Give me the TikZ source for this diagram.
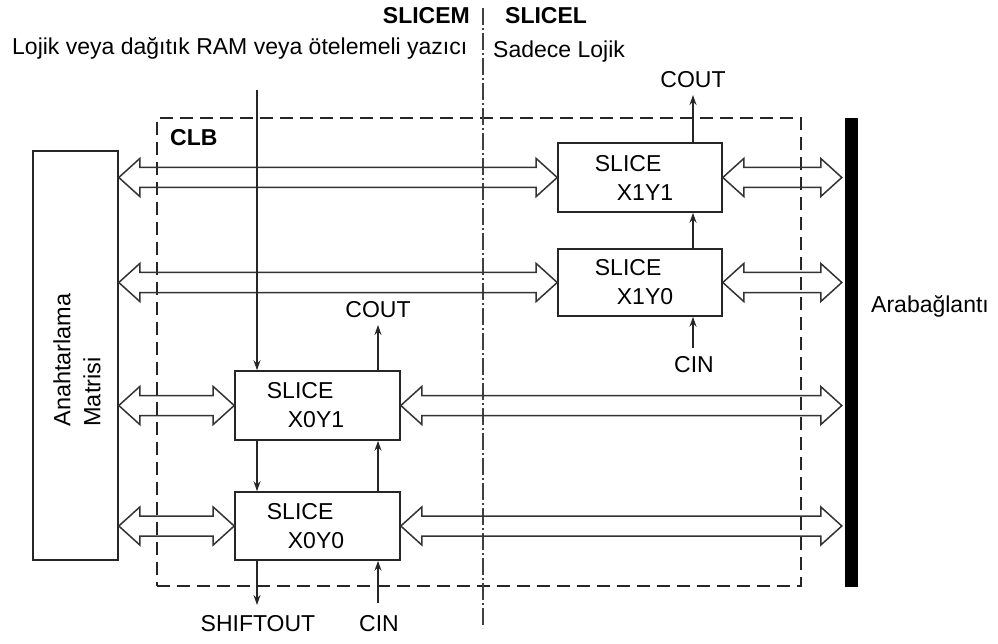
\documentclass[tikz,border=0pt]{standalone}
\usepackage{fontspec}
\setmainfont{Liberation Sans}
\usetikzlibrary{arrows.meta,calc}
\newcommand\hollowarr[2]{%
  \draw[harr] let \p1=#1, \p2=#2 in
    (\x1,\y1) -- (\x1+21pt,\y1+19pt) -- (\x1+21pt,\y1+10pt) -- (\x2-21pt,\y1+10pt)
    -- (\x2-21pt,\y1+19pt) -- (\x2,\y1) -- (\x2-21pt,\y1-19pt) -- (\x2-21pt,\y1-10pt)
    -- (\x1+21pt,\y1-10pt) -- (\x1+21pt,\y1-19pt) -- cycle;}
\tikzset{
  lbl/.style={inner sep=0pt, font=\fontsize{23}{29}\selectfont},
  blbl/.style={inner sep=0pt, font=\fontsize{23}{29}\selectfont\bfseries},
  box/.style={draw=black!85, line width=1.6pt, rectangle, inner sep=0pt},
  slicebox/.style={box, minimum width=164pt, minimum height=69pt, align=left,
    font=\fontsize{23}{29}\selectfont},
  harr/.style={draw=black!80, line width=1.5pt, line join=miter},
  sarr/.style={draw=black!85, line width=1.4pt, -{Stealth[length=10pt,width=7pt]}},
  clbline/.style={draw=black!85, line width=1.5pt, dash pattern=on 13pt off 7pt},
  sepline/.style={draw=black!75, line width=1.3pt, dash pattern=on 17pt off 3pt on 2pt off 3pt}
}
\begin{document}
\begin{tikzpicture}[x=1pt,y=-1pt]
\useasboundingbox (0,0) rectangle (998,644);
% frames
\node[box, minimum width=85pt, minimum height=409pt] (sm) at (75.5,355.5) {};
\node[lbl, rotate=90, align=left, font=\fontsize{23.5}{30}\selectfont] (smtext) at (77,360) {Anahtarlama\\Matrisi};
\node[clbline, rectangle, minimum width=644pt, minimum height=468pt, inner sep=0pt] (clb) at (479,352) {};
\node[fill=black, minimum width=13pt, minimum height=469pt, inner sep=0pt] (bar) at (851.5,352.5) {};
\coordinate (sepTop) at (483,8);
\coordinate (sepBot) at (483,628);
\draw[sepline] (sepTop) -- (sepBot);
% slices
\node[slicebox] (s11) at (640,177.5) {SLICE\\\hspace*{22pt}X1Y1\hspace*{12pt}};
\node[slicebox, minimum height=67pt] (s10) at (640,282.5) {SLICE\\\hspace*{22pt}X1Y0\hspace*{12pt}};
\node[slicebox, minimum width=165pt] (s01) at (317.5,405.5) {SLICE\\\hspace*{21pt}X0Y1\hspace*{24pt}};
\node[slicebox, minimum width=165pt, minimum height=68pt] (s00) at (317.5,526) {SLICE\\\hspace*{21pt}X0Y0\hspace*{24pt}};
% labels
\node[blbl, anchor=base east] (slicem) at (470,24) {SLICEM};
\node[blbl, anchor=base west] (slicel) at (505,24) {SLICEL};
\node[lbl, anchor=base west] (lojik) at (12,55) {Lojik veya dağıtık RAM veya ötelemeli yazıcı};
\node[lbl, anchor=base west] (sadece) at (493,58) {Sadece Lojik};
\node[blbl, anchor=base west] (clblbl) at (170,146) {CLB};
\node[lbl, anchor=base west] (arab) at (871,312) {Arabağlantı};
% hollow double arrows
\hollowarr{(sm.east |- s11.west)}{(s11.west)}
\hollowarr{(sm.east |- s10.west)}{(s10.west)}
\hollowarr{(sm.east |- s01.west)}{(s01.west)}
\hollowarr{(sm.east |- s00.west)}{(s00.west)}
\hollowarr{(s11.east)}{($(bar.west |- s11.east)+(-3,0)$)}
\hollowarr{(s10.east)}{($(bar.west |- s10.east)+(-3,0)$)}
\hollowarr{(s01.east)}{($(bar.west |- s01.east)+(-3,0)$)}
\hollowarr{(s00.east)}{($(bar.west |- s00.east)+(-3,0)$)}
% shift chain
\coordinate (inTop) at (257,90);
\draw[sarr] (inTop) -- (inTop |- s01.north);
\draw[sarr] (inTop |- s01.south) -- (inTop |- s00.north);
\coordinate (soEnd) at (257,605);
\draw[sarr] (inTop |- s00.south) -- (soEnd);
\node[lbl, anchor=base] (shiftout) at (258,631) {SHIFTOUT};
% carry chain X0
\coordinate (c0) at (378,325);
\draw[sarr] (c0 |- s01.north) -- (c0);
\node[lbl, anchor=base] (cout0) at (378,317) {COUT};
\draw[sarr] (c0 |- s00.north) -- (c0 |- s01.south);
\coordinate (cin0start) at (378,603);
\draw[sarr] (cin0start) -- (cin0start |- s00.south);
\node[lbl, anchor=base] (cin0) at (379,631) {CIN};
% carry chain X1
\coordinate (c1) at (693,95);
\draw[sarr] (c1 |- s11.north) -- (c1);
\node[lbl, anchor=base] (cout1) at (693,88) {COUT};
\draw[sarr] (c1 |- s10.north) -- (c1 |- s11.south);
\coordinate (cin1start) at (693,348);
\draw[sarr] (cin1start) -- (cin1start |- s10.south);
\node[lbl, anchor=base] (cin1) at (694,372) {CIN};
\end{tikzpicture}
\end{document}
